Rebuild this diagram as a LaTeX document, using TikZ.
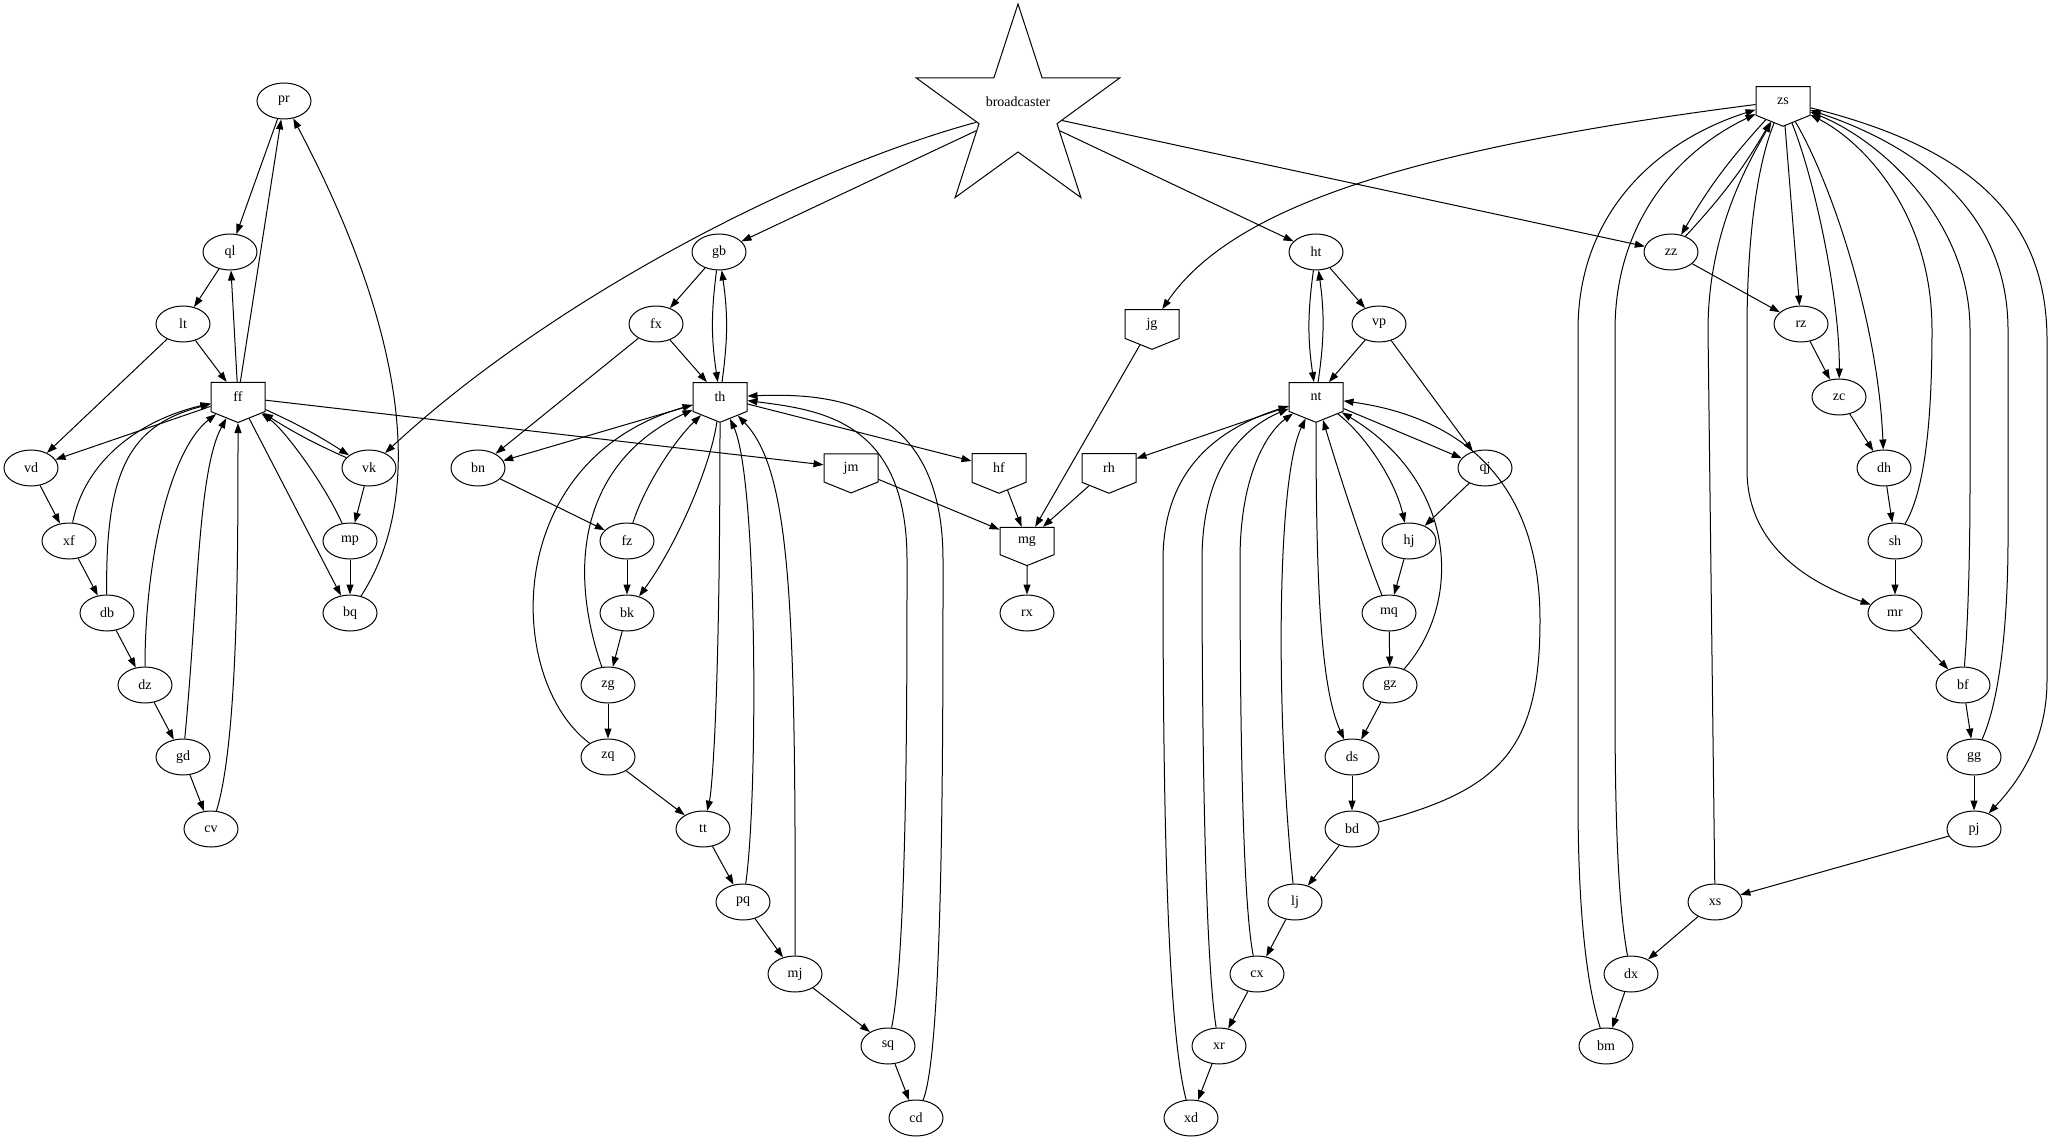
\documentclass[tikz,border=0pt]{standalone}
\usepackage{fontspec}
\setmainfont{Liberation Serif}
\usetikzlibrary{shapes.geometric,shapes.symbols,arrows.meta}
\begin{document}
\begin{tikzpicture}[x=1pt,y=-1pt,line width=1pt,>={Triangle[length=10pt,width=7pt]},
  every node/.style={font=\fontsize{14}{16}\selectfont},
  el/.style={draw,ellipse,minimum width=54pt,minimum height=36pt,inner sep=0pt},
  ih/.style={draw,signal,signal to=south,signal pointer angle=136,minimum width=54pt,minimum height=31pt,inner sep=0pt},
  bigstar/.style={draw,star,star points=5,star point ratio=2.61,minimum size=214pt,inner sep=0pt}]
\useasboundingbox (0,0) rectangle (2051,1139);

\node[el] (pr) at (284,101) {pr};
\node[el] (ql) at (230,252) {ql};
\node[el] (lt) at (183,324) {lt};
\node[ih] (ff) at (238,397) {ff};
\node[el] (vd) at (31,468) {vd};
\node[el] (xf) at (69,541) {xf};
\node[el] (db) at (107,613) {db};
\node[el] (dz) at (145,685) {dz};
\node[el] (gd) at (183,757) {gd};
\node[el] (cv) at (211,829) {cv};
\node[el] (vk) at (369,468) {vk};
\node[el] (mp) at (350,541) {mp};
\node[el] (bq) at (350,613) {bq};

\node[bigstar,label={[name=bctext,yshift=9pt]center:broadcaster}] (bc) at (1018,111) {};
\node[el] (gb) at (719,252) {gb};
\node[el] (fx) at (656,324) {fx};
\node[ih] (th) at (720,397) {th};
\node[el] (bn) at (478,468) {bn};
\node[el] (fz) at (627,541) {fz};
\node[el] (bk) at (627,613) {bk};
\node[el] (zg) at (608,685) {zg};
\node[el] (zq) at (608,757) {zq};
\node[el] (tt) at (703,829) {tt};
\node[el] (pq) at (743,902) {pq};
\node[el] (mj) at (795,974) {mj};
\node[el] (sq) at (888,1046) {sq};
\node[el] (cd) at (916,1118) {cd};

\node[ih] (jm) at (851,468) {jm};
\node[ih] (hf) at (999,468) {hf};
\node[ih] (rh) at (1109,468) {rh};
\node[ih] (jg) at (1152,324) {jg};
\node[ih] (mg) at (1027,541) {mg};
\node[el] (rx) at (1027,613) {rx};

\node[el] (ht) at (1316,252) {ht};
\node[el] (vp) at (1379,324) {vp};
\node[ih] (nt) at (1316,397) {nt};
\node[el] (qj) at (1485,468) {qj};
\node[el] (hj) at (1409,541) {hj};
\node[el] (mq) at (1389,613) {mq};
\node[el] (gz) at (1390,685) {gz};
\node[el] (ds) at (1352,757) {ds};
\node[el] (bd) at (1352,829) {bd};
\node[el] (lj) at (1295,902) {lj};
\node[el] (cx) at (1257,974) {cx};
\node[el] (xr) at (1219,1046) {xr};
\node[el] (xd) at (1191,1118) {xd};

\node[ih] (zs) at (1783,101) {zs};
\node[el] (zz) at (1671,252) {zz};
\node[el] (rz) at (1801,324) {rz};
\node[el] (zc) at (1839,397) {zc};
\node[el] (dh) at (1884,468) {dh};
\node[el] (sh) at (1895,541) {sh};
\node[el] (mr) at (1895,613) {mr};
\node[el] (bf) at (1963,685) {bf};
\node[el] (gg) at (1974,757) {gg};
\node[el] (pj) at (1974,829) {pj};
\node[el] (xs) at (1715,902) {xs};
\node[el] (dx) at (1631,974) {dx};
\node[el] (bm) at (1606,1046) {bm};

\draw[->] (pr) -- (ql);
\draw[->] (ff) -- (pr);
\draw[->] (ff) -- (ql);
\draw[->] (ql) -- (lt);
\draw[->] (lt) -- (ff);
\draw[->] (lt) -- (vd);
\draw[->] (ff) -- (vd);
\draw[->] (vd) -- (xf);
\draw[->] (xf) -- (db);
\draw[->] (db) -- (dz);
\draw[->] (dz) -- (gd);
\draw[->] (gd) -- (cv);
\draw[->] (xf) .. controls (85,460) and (140,420) .. (ff);
\draw[->] (db) .. controls (105,470) and (130,425) .. (ff);
\draw[->] (dz) .. controls (145,560) and (170,450) .. (ff);
\draw[->] (gd) .. controls (198,600) and (198,470) .. (ff);
\draw[->] (cv) .. controls (238,740) and (238,560) .. (ff);
\draw[->] (ff) -- (bq);
\draw[->] (mp) .. controls (325,485) and (285,430) .. (ff);
\draw[->] (ff) to[bend left=4] (vk);
\draw[->] (vk) to[bend left=4] (ff);
\draw[->] (vk) -- (mp);
\draw[->] (mp) -- (bq);
\draw[->] (bq) .. controls (430,490) and (400,320) .. (pr);
\draw[->] (ff) -- (jm);

\draw[->] (bc) -- (gb);
\draw[->] (bc) .. controls (800,170) and (550,300) .. (vk);
\draw[->] (gb) to[bend right=8] (th);
\draw[->] (th) to[bend right=8] (gb);
\draw[->] (gb) -- (fx);
\draw[->] (fx) -- (th);
\draw[->] (fx) -- (bn);
\draw[->] (th) -- (bn);
\draw[->] (bn) -- (fz);
\draw[->] (fz) .. controls (645,485) and (675,440) .. (th);
\draw[->] (fz) -- (bk);
\draw[->] (th) .. controls (712,460) and (680,540) .. (bk);
\draw[->] (bk) -- (zg);
\draw[->] (zg) .. controls (565,560) and (585,460) .. (th);
\draw[->] (zg) -- (zq);
\draw[->] (zq) .. controls (505,680) and (500,460) .. (th);
\draw[->] (zq) -- (tt);
\draw[->] (th) .. controls (720,700) and (712,790) .. (tt);
\draw[->] (tt) -- (pq);
\draw[->] (pq) .. controls (758,800) and (758,480) .. (th);
\draw[->] (pq) -- (mj);
\draw[->] (mj) .. controls (796,600) and (790,470) .. (th);
\draw[->] (mj) -- (sq);
\draw[->] (sq) .. controls (907,950) and (907,700) .. (907,560) .. controls (907,420) and (820,410) .. (th);
\draw[->] (sq) -- (cd);
\draw[->] (cd) .. controls (943,1050) and (943,750) .. (943,560) .. controls (943,400) and (830,393) .. (th);
\draw[->] (th) -- (hf);

\draw[->] (jm) -- (mg);
\draw[->] (hf) -- (mg);
\draw[->] (rh) -- (mg);
\draw[->] (jg) -- (mg);
\draw[->] (mg) -- (rx);
\draw[->] (zs) .. controls (1400,150) and (1230,210) .. (jg);
\draw[->] (nt) -- (rh);

\draw[->] (bc) -- (ht);
\draw[->] (ht) to[bend right=8] (nt);
\draw[->] (nt) to[bend right=8] (ht);
\draw[->] (ht) -- (vp);
\draw[->] (vp) -- (nt);
\draw[->] (vp) -- (qj);
\draw[->] (nt) -- (qj);
\draw[->] (qj) -- (hj);
\draw[->] (nt) .. controls (1365,435) and (1395,480) .. (hj);
\draw[->] (hj) -- (mq);
\draw[->] (mq) .. controls (1360,540) and (1335,460) .. (nt);
\draw[->] (mq) -- (gz);
\draw[->] (gz) .. controls (1465,600) and (1455,480) .. (nt);
\draw[->] (gz) -- (ds);
\draw[->] (nt) .. controls (1316,600) and (1322,690) .. (ds);
\draw[->] (ds) -- (bd);
\draw[->] (bd) .. controls (1500,790) and (1540,750) .. (1540,620) .. controls (1540,500) and (1480,420) .. (nt);
\draw[->] (bd) -- (lj);
\draw[->] (lj) .. controls (1276,720) and (1276,480) .. (nt);
\draw[->] (lj) -- (cx);
\draw[->] (cx) .. controls (1242,900) and (1240,700) .. (1240,560) .. controls (1240,470) and (1270,430) .. (nt);
\draw[->] (cx) -- (xr);
\draw[->] (xr) .. controls (1204,950) and (1202,700) .. (1202,560) .. controls (1202,460) and (1250,425) .. (nt);
\draw[->] (xr) -- (xd);
\draw[->] (xd) .. controls (1165,1020) and (1163,750) .. (1163,560) .. controls (1163,460) and (1230,425) .. (nt);

\draw[->] (bc) -- (zz);
\draw[->] (zs) to[bend right=6] (zz);
\draw[->] (zz) to[bend right=6] (zs);
\draw[->] (zz) -- (rz);
\draw[->] (zs) -- (rz);
\draw[->] (rz) -- (zc);
\draw[->] (zs) .. controls (1815,180) and (1840,300) .. (zc);
\draw[->] (zc) -- (dh);
\draw[->] (zs) .. controls (1830,180) and (1878,320) .. (dh);
\draw[->] (dh) -- (sh);
\draw[->] (sh) .. controls (1925,490) and (1932,420) .. (1932,330) .. controls (1932,210) and (1860,140) .. (zs);
\draw[->] (sh) -- (mr);
\draw[->] (zs) .. controls (1755,170) and (1747,250) .. (1747,330) -- (1747,470) .. controls (1747,540) and (1800,580) .. (mr);
\draw[->] (mr) -- (bf);
\draw[->] (bf) .. controls (1968,620) and (1970,560) .. (1970,480) -- (1970,330) .. controls (1970,220) and (1880,140) .. (zs);
\draw[->] (bf) -- (gg);
\draw[->] (gg) .. controls (2000,700) and (2008,620) .. (2008,540) -- (2008,330) .. controls (2008,200) and (1900,140) .. (zs);
\draw[->] (gg) -- (pj);
\draw[->] (zs) .. controls (1960,145) and (2047,210) .. (2047,340) -- (2047,680) .. controls (2047,740) and (2020,780) .. (pj);
\draw[->] (pj) -- (xs);
\draw[->] (xs) -- (1708,330) .. controls (1708,230) and (1750,160) .. (zs);
\draw[->] (xs) -- (dx);
\draw[->] (dx) .. controls (1617,900) and (1615,800) .. (1615,700) -- (1615,330) .. controls (1615,220) and (1680,150) .. (zs);
\draw[->] (dx) -- (bm);
\draw[->] (bm) .. controls (1585,980) and (1578,900) .. (1578,800) -- (1578,330) .. controls (1578,210) and (1660,140) .. (zs);
\end{tikzpicture}
\end{document}
